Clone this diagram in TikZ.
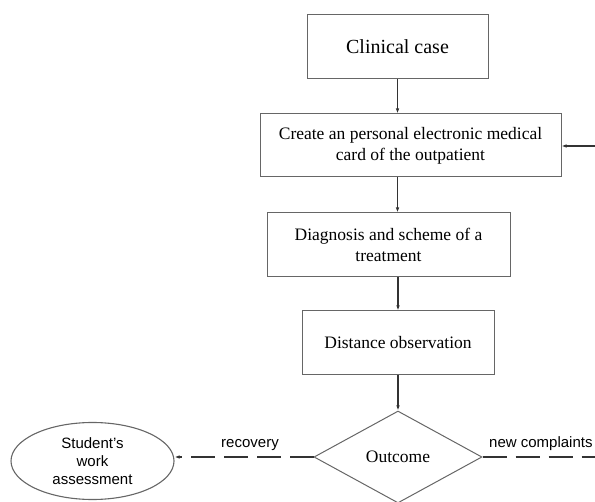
\documentclass[tikz,border=0pt]{standalone}
\usepackage{fontspec}
\setmainfont{Liberation Serif}
\setsansfont{Liberation Sans}
\usetikzlibrary{shapes.geometric,arrows.meta}

\begin{document}
\begin{tikzpicture}[x=1pt,y=-1pt,
    box/.style={draw=black!60,line width=1pt,inner sep=0pt,align=center,
      font=\fontsize{17.5}{21}\selectfont},
    link/.style={->,>={Latex[length=5pt,width=3.5pt]},line width=1.2pt,black!80},
    dashlink/.style={line width=1.1pt,black!80,dash pattern=on 24pt off 9pt},
    lbl/.style={font=\sffamily\fontsize{15}{18}\selectfont,inner sep=0pt}]
  \useasboundingbox (0,0) rectangle (595,502);
  \clip (0,0) rectangle (595,502);

  \node[box,minimum width=181pt,minimum height=64pt,font=\fontsize{20}{24}\selectfont]
    (case) at (397.5,47) {Clinical case};
  \node[box,minimum width=301pt,minimum height=63pt] (card) at (410.5,145.5)
    {Create an personal electronic medical\\card of the outpatient};
  \node[box,minimum width=243pt,minimum height=64pt] (diag) at (388.5,245)
    {Diagnosis and scheme of a\\treatment};
  \node[box,minimum width=192pt,minimum height=64pt] (obs) at (398,343)
    {Distance observation};
  \node[box,diamond,aspect=1.8,minimum width=168pt,minimum height=92pt] (outcome)
    at (398,457) {Outcome};
  \node[draw=black!60,line width=1.1pt,ellipse,minimum width=163pt,minimum height=77pt,
    inner sep=0pt,align=center,font=\sffamily\fontsize{15}{18}\selectfont] (assess)
    at (92.5,461) {Student's\\work\\assessment};

  % main chain
  \draw[link] (case.south) -- (card.north -| case.south);
  \draw[link] (card.south -| case.south) -- (diag.north -| case.south);
  \draw[link] (diag.south -| obs.north) -- (obs.north);
  \draw[link] (obs.south) -- (outcome.north);

  % outcomes
  \coordinate (back) at (595,146);
  \coordinate (more) at (595,457);
  \draw[link] (back) -- (card.east |- back);
  \draw[dashlink,->,>={Latex[length=5pt,width=3.5pt]}] (outcome.west) -- (assess.east |- outcome.west);
  \draw[dashlink] (outcome.east) -- (more);
  \node[lbl] (rec) at (250,445) {recovery};
  \node[lbl,anchor=west] (newc) at (489,444) {new complaints};
\end{tikzpicture}
\end{document}
